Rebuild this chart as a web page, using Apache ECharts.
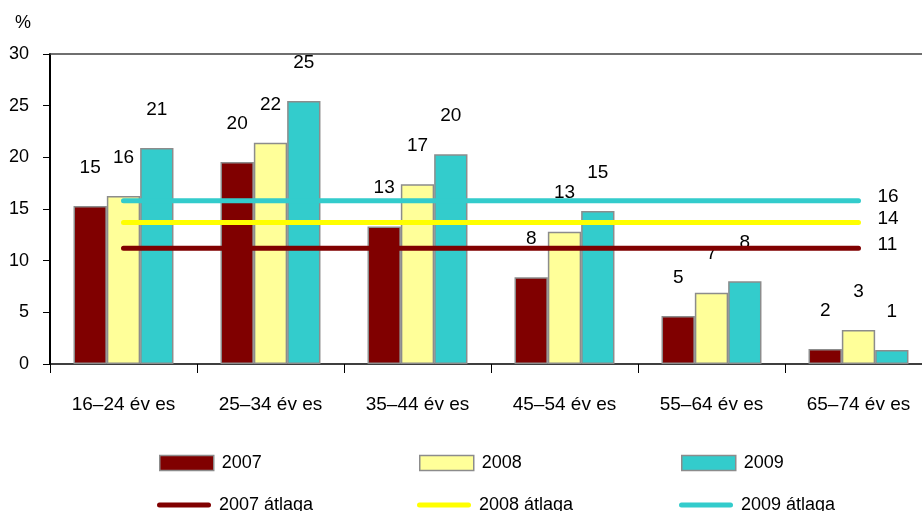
<!DOCTYPE html>
<html>
<head>
<meta charset="utf-8">
<script src="https://cdn.jsdelivr.net/npm/echarts@6/dist/echarts.min.js"></script>
<style>
  html, body { margin: 0; padding: 0; background: #fff; overflow: hidden; }
  /* plot area runs past the right edge of the window, as in the original */
  #chart { width: 932px; height: 511px; }
</style>
</head>
<body>
<div id="chart"></div>
<script>
// age groups
const categories = ['16–24 év es', '25–34 év es', '35–44 év es', '45–54 év es', '55–64 év es', '65–74 év es']

// bar heights (%)
const values2007 = [15.3, 19.55, 13.3, 8.4, 4.65, 1.45]
const values2008 = [16.25, 21.4, 17.4, 12.8, 6.9, 3.3]
const values2009 = [20.9, 25.45, 20.3, 14.8, 8.0, 1.35]

// printed labels above bars
const labels2007 = ['15', '20', '13', '8', '5', '2']
const labels2008 = ['16', '22', '17', '13', '7', '3']
const labels2009 = ['21', '25', '20', '15', '8', '1']

// yearly averages
const avg2007 = [11.2, 11.2, 11.2, 11.2, 11.2, 11.2]
const avg2008 = [13.7, 13.7, 13.7, 13.7, 13.7, 13.7]
const avg2009 = [15.8, 15.8, 15.8, 15.8, 15.8, 15.8]
const avgLabels = { '2007 átlaga': '11', '2008 átlaga': '14', '2009 átlaga': '16' }

const yTicks = [0, 5, 10, 15, 20, 25, 30]

const FONT = 'Liberation Sans, Arial, sans-serif'
const colors = { y2007: '#800000', y2008: '#ffff99', y2009: '#33cccc' }

// rounded bar used as legend icon for the average lines
const lineIcon = 'path://M2.5,0 L51.5,0 A2.5,2.5 0 0 1 51.5,5 L2.5,5 A2.5,2.5 0 0 1 2.5,0 Z'

const chart = echarts.init(document.getElementById('chart'))

const barSeries = (name, data, labels, color) => ({
  name,
  type: 'bar',
  data,
  barGap: '0%',
  barCategoryGap: '32%',
  itemStyle: { color, borderColor: '#8c8c8c', borderWidth: 1.5 },
  label: {
    show: true,
    position: 'top',
    distance: 29,
    fontFamily: FONT,
    fontSize: 19,
    color: '#000',
    formatter: p => labels[p.dataIndex]
  },
  z: 2
})

const avgSeries = (name, data, color) => ({
  name,
  type: 'line',
  data,
  symbol: 'none',
  lineStyle: { color, width: 5, cap: 'round' },
  itemStyle: { color },
  endLabel: {
    show: true,
    distance: 19,
    offset: [0, -4],
    fontFamily: FONT,
    fontSize: 19,
    color: '#000',
    formatter: p => avgLabels[p.seriesName]
  },
  z: 5
})

const legendBox = (name, left, top, isLine) => ({
  data: [name],
  left,
  top,
  icon: isLine ? lineIcon : 'rect',
  itemWidth: 54,
  itemHeight: isLine ? 5 : 15,
  padding: 0,
  selectedMode: false,
  itemStyle: isLine ? { borderWidth: 0 } : { borderColor: '#8c8c8c', borderWidth: 1.5 },
  textStyle: { fontFamily: FONT, fontSize: 18, color: '#000', padding: [0, 0, 0, 3] }
})

const option = {
  animation: false,
  backgroundColor: '#fff',
  grid: { left: 50, top: 54, bottom: 147, right: 0 },
  xAxis: [
    {
      type: 'category',
      data: categories,
      axisLine: { lineStyle: { color: '#000', width: 1.5 } },
      axisTick: { show: true, length: 9, lineStyle: { color: '#000' } },
      axisLabel: { margin: 31, fontFamily: FONT, fontSize: 19, color: '#000' }
    },
    {
      type: 'category',
      data: categories,
      position: 'top',
      axisLine: { lineStyle: { color: '#404040', width: 1.5 } },
      axisTick: { show: false },
      axisLabel: { show: false }
    }
  ],
  yAxis: {
    type: 'value',
    min: yTicks[0],
    max: yTicks[yTicks.length - 1],
    interval: 5,
    axisLine: { show: true, lineStyle: { color: '#000', width: 2 } },
    axisTick: { show: true, length: 7, lineStyle: { color: '#000' } },
    axisLabel: { margin: 21, fontFamily: FONT, fontSize: 18, color: '#000' },
    splitLine: { show: false }
  },
  legend: [
    legendBox('2007', 159, 454, false),
    legendBox('2008', 419, 454, false),
    legendBox('2009', 681, 454, false),
    legendBox('2007 átlaga', 157, 496, true),
    legendBox('2008 átlaga', 417, 496, true),
    legendBox('2009 átlaga', 679, 496, true)
  ],
  graphic: [
    { type: 'text', left: 15, top: 14, style: { text: '%', fontFamily: FONT, fontSize: 18, fill: '#000' } }
  ],
  series: [
    barSeries('2007', values2007, labels2007, colors.y2007),
    barSeries('2008', values2008, labels2008, colors.y2008),
    barSeries('2009', values2009, labels2009, colors.y2009),
    avgSeries('2007 átlaga', avg2007, '#800000'),
    avgSeries('2008 átlaga', avg2008, '#ffff00'),
    avgSeries('2009 átlaga', avg2009, '#33cccc')
  ]
}

chart.setOption(option)
</script>
</body>
</html>
